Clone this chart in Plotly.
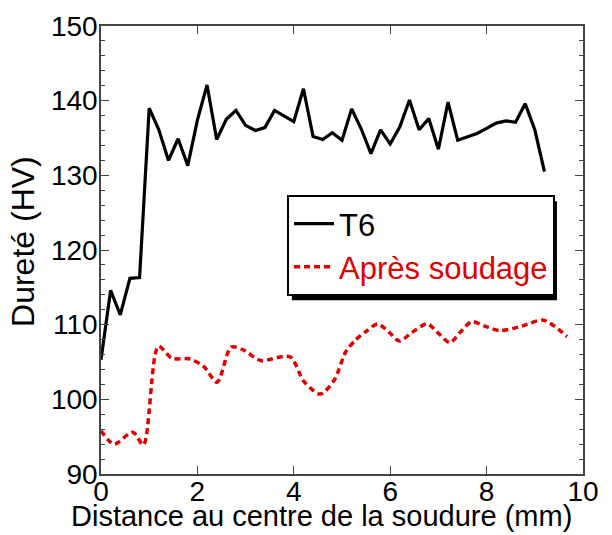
import plotly.graph_objects as go

# Hardness profiles across the weld (distance in mm, hardness in HV)
dist_t6 = [0.0, 0.2, 0.4, 0.6, 0.8, 1.0, 1.2, 1.4, 1.6, 1.8, 2.0, 2.2, 2.4, 2.6,
           2.8, 3.0, 3.2, 3.4, 3.6, 3.8, 4.0, 4.2, 4.4, 4.6, 4.8, 5.0, 5.2, 5.4,
           5.6, 5.8, 6.0, 6.2, 6.4, 6.6, 6.8, 7.0, 7.2, 7.4, 7.8, 8.0, 8.2, 8.4,
           8.6, 8.8, 9.0, 9.2]
hv_t6 = [105.3, 114.6, 111.3, 116.2, 116.3, 139.0, 136.1, 132.0, 134.9, 131.3,
         137.4, 142.1, 134.8, 137.5, 138.7, 136.7, 136.0, 136.4, 138.7, 138.0,
         137.2, 141.6, 135.2, 134.8, 135.7, 134.7, 138.9, 136.2, 132.9, 136.1,
         134.2, 136.5, 140.1, 136.1, 137.6, 133.5, 139.8, 134.7, 135.6, 136.3,
         137.0, 137.3, 137.1, 139.6, 136.1, 130.5]

dist_weld = [0.0, 0.27, 0.66, 0.88, 1.19, 1.47, 1.85, 2.13, 2.41, 2.7, 2.96,
             3.31, 3.92, 4.21, 4.55, 4.84, 5.08, 5.29, 5.5, 5.74, 5.99, 6.19,
             6.44, 6.77, 6.99, 7.24, 7.44, 7.69, 7.96, 8.28, 8.73, 9.18, 9.67]
hv_weld = [95.8, 94.0, 95.6, 93.9, 107.1, 105.5, 105.4, 104.4, 102.3, 107.0,
           106.6, 105.2, 105.7, 102.4, 100.7, 102.6, 106.4, 108.0, 109.1,
           110.1, 108.9, 107.8, 108.9, 110.1, 108.9, 107.6, 108.9, 110.4,
           109.8, 109.2, 109.8, 110.6, 108.4]

x_ticks = [0, 2, 4, 6, 8, 10]
y_ticks = [90, 100, 110, 120, 130, 140, 150]

FONT = "Liberation Sans, Arial, sans-serif"
RED = "#e00000"

fig = go.Figure()
fig.add_trace(go.Scatter(
    x=dist_t6, y=hv_t6, mode="lines", name="T6",
    line=dict(color="black", width=3.2),
))
fig.add_trace(go.Scatter(
    x=dist_weld, y=hv_weld, mode="lines",
    name=f"<span style='color:{RED}'>Après soudage</span>",
    line=dict(color=RED, width=3.5, dash="6px,4px", shape="spline", smoothing=0.8),
))

axis_common = dict(
    showline=True, linecolor="#444", linewidth=1.5, mirror="ticks",
    ticks="inside", tickcolor="#444", tickwidth=1.2, ticklen=8,
    showgrid=False, zeroline=False,
    tickfont=dict(family=FONT, size=28, color="black"),
)

fig.update_xaxes(range=[0, 10], tickvals=x_ticks, ticklabelstandoff=-8, **axis_common)
fig.update_yaxes(range=[90, 150], tickvals=y_ticks, ticklabelstandoff=-4,
                 minor=dict(dtick=2, ticks="inside", ticklen=4, tickcolor="#444"),
                 **axis_common)

# Legend drop shadow
fig.add_shape(type="rect", xref="paper", yref="paper",
              x0=0.396, x1=0.946, y0=0.388, y1=0.609,
              fillcolor="black", line=dict(width=0), layer="above")

fig.update_layout(
    width=612, height=535,
    margin=dict(l=101, r=29, t=26, b=61),
    paper_bgcolor="white", plot_bgcolor="white",
    font=dict(family=FONT, color="black"),
    legend=dict(
        x=0.386, y=0.623, xanchor="left", yanchor="top",
        bgcolor="white", bordercolor="black", borderwidth=2,
        font=dict(family=FONT, size=31, color="black"),
        itemwidth=40, tracegroupgap=0,
    ),
    annotations=[
        dict(text="Dureté (HV)", textangle=-90, showarrow=False,
             xref="paper", yref="paper", x=-0.162, y=0.52,
             xanchor="center", yanchor="middle",
             font=dict(family=FONT, size=32, color="black")),
        dict(text="Distance au centre de la soudure (mm)", showarrow=False,
             xref="paper", yref="paper", x=-0.066, y=-0.1345,
             xanchor="left", yanchor="bottom",
             font=dict(family=FONT, size=29, color="black")),
    ],
)

fig.write_html("out.html")
